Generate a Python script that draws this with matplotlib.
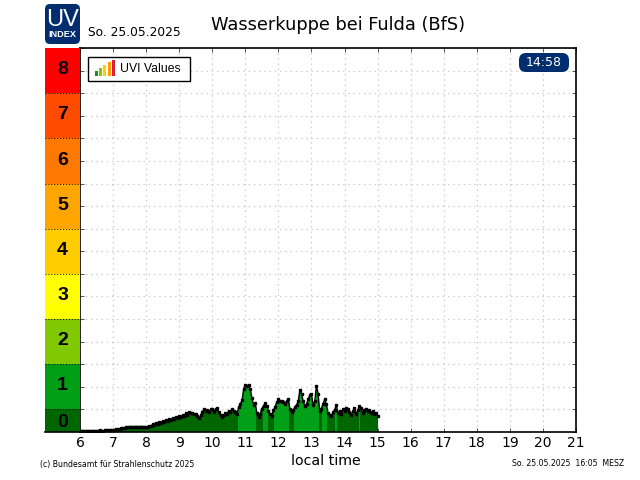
import matplotlib
matplotlib.use('Agg')
import matplotlib.pyplot as plt
from matplotlib.patches import FancyBboxPatch, Rectangle

# one reading every 3 minutes from 06:00, last one at the end of the list
uvi_minutes = list(range(360, 903, 3))
uvi_values = [
    .03, .03, .03, .03, .03, .03, .03, .03, .03, .03, .03, .03, .04, .03, .03, .04, .04, .04, .04, .04,
    .05, .05, .06, .06, .07, .08, .08, .09, .10, .11, .12, .12, .12, .12, .12, .12, .12, .12, .12, .11,
    .11, .12, .14, .13, .17, .15, .20, .18, .22, .20, .25, .22, .27, .24, .29, .26, .31, .28, .34, .32,
    .36, .33, .38, .36, .41, .38, .44, .41, .43, .39, .40, .36, .30, .37, .44, .50, .46, .49, .44, .50,
    .52, .45, .51, .53, .44, .38, .33, .37, .42, .40, .47, .44, .50, .47, .45, .40, .56, .62, .70, .95,
    1.05, 1.02, 1.05, .95, .75, .60, .64, .42, .33, .40, .52, .58, .64, .58, .47, .40, .36, .48, .56, .66,
    .72, .68, .69, .66, .63, .68, .74, .50, .44, .48, .56, .60, .68, .94, .85, .68, .57, .62, .72, .82,
    .84, .60, .68, 1.02, .85, .46, .52, .62, .72, .62, .43, .38, .35, .44, .48, .60, .42, .46, .40, .50,
    .46, .53, .50, .44, .38, .46, .53, .40, .48, .58, .54, .42, .49, .52, .46, .49, .43, .46, .40, .42,
    .35,
]

band_labels = ['0', '1', '2', '3', '4', '5', '6', '7', '8']
band_colors = ['#006600', '#009e14', '#80c800', '#ffff00', '#ffcc00',
               '#ffa500', '#ff7800', '#ff4b00', '#ff0000']
band_edges = [0, 0.5, 1.5, 2.5, 3.5, 4.5, 5.5, 6.5, 7.5, 8.5]
hours = list(range(6, 22))
half_steps = [0.5 * i for i in range(0, 18)]
icon_heights = [5, 8, 11, 14, 16]
icon_colors = ['#1e8c1e', '#80c800', '#ffcc00', '#ff9a00', '#d8203c']

W, H = 640, 480
navy = '#002d6e'

def box(x0, y_top, x1, y_bottom):
    # pixel box from the top left corner -> matplotlib axes rectangle
    return [x0 / W, 1 - y_bottom / H, (x1 - x0) / W, (y_bottom - y_top) / H]

fig = plt.figure(figsize=(6.4, 4.8), dpi=100)

ax = fig.add_axes(box(80, 48, 576, 432))
ax.set_xlim(6, 21)
ax.set_ylim(0, 8.5)
ax.set_xticks(hours)
ax.set_yticks(half_steps)
ax.set_yticklabels([])
ax.tick_params(axis='both', direction='in', length=3, width=0.7, top=True, right=True, color='#555555')
ax.tick_params(axis='x', labelsize=10, pad=3)
ax.grid(True, color='#cccccc', linestyle=(0, (1.2, 3)), linewidth=0.9)
ax.set_axisbelow(True)
for s in ax.spines.values():
    s.set_linewidth(1.2)

ax.set_xlabel('local time', fontsize=10.2, labelpad=3, x=0.495)

hrs = [m / 60 for m in uvi_minutes]
colors = ['#006600' if v < 0.55 else '#00a018' for v in uvi_values]
ax.bar(hrs, uvi_values, width=3 / 60, color=colors, linewidth=0, zorder=2)
ax.plot(hrs, uvi_values, color='black', linewidth=1.0, marker='s', markersize=1.7, zorder=3)

# UV index scale on the left
scale = fig.add_axes(box(45, 48, 80, 432))
scale.set_xlim(0, 1)
scale.set_ylim(0, 8.5)
scale.axis('off')
for i, lab in enumerate(band_labels):
    low, high = band_edges[i], band_edges[i + 1]
    scale.bar(0.5, high - low, bottom=low, width=1, color=band_colors[i], linewidth=0)
    if i > 0:
        scale.plot([0, 1], [low, low], color='black', linestyle=(0, (1, 2)), linewidth=0.7)
    scale.text(0.5, i + 0.02 if i else 0.22, lab, ha='center', va='center', fontsize=14,
               fontweight='bold', family='Liberation Sans')
scale.plot([0, 1], [0, 0], color='black', linewidth=1.2, clip_on=False)

# logo, date, title
art = fig.add_axes([0, 0, 1, 1])
art.set_xlim(0, W)
art.set_ylim(H, 0)
art.axis('off')
art.patch.set_alpha(0)
art.add_patch(FancyBboxPatch((48, 7), 29, 34, boxstyle='round,pad=3,rounding_size=5',
                             facecolor=navy, edgecolor='none'))
art.text(62.5, 20, 'UV', color='white', fontsize=17, ha='center', va='center', family='Liberation Sans')
art.text(62.5, 34.5, 'INDEX', color='white', fontsize=6.6, fontweight='bold', ha='center', va='center',
         family='Liberation Sans')
art.text(88, 32, 'So. 25.05.2025', fontsize=8.8, ha='left', va='center')
art.text(338, 25, 'Wasserkuppe bei Fulda (BfS)', fontsize=12.8, ha='center', va='center')

# legend box
art.add_patch(Rectangle((88, 56.5), 102, 24, facecolor='white', edgecolor='black', linewidth=1, zorder=5))
for i, h in enumerate(icon_heights):
    art.add_patch(Rectangle((95 + i * 4.2, 76 - h), 3, h, facecolor=icon_colors[i], edgecolor='none', zorder=6))
art.text(120, 69.5, 'UVI Values', fontsize=8.8, ha='left', va='center', family='Liberation Sans', zorder=6)

# clock pill
art.add_patch(FancyBboxPatch((523, 57), 42, 11, boxstyle='round,pad=4,rounding_size=7',
                             facecolor=navy, edgecolor='none', zorder=5))
art.text(544, 62.5, '14:58', color='white', fontsize=9, ha='center', va='center', zorder=6)

# footer
art.text(40, 464, '(c) Bundesamt für Strahlenschutz 2025', fontsize=5.6, ha='left', va='center')
art.text(624, 464, 'So. 25.05.2025  16:05  MESZ', fontsize=5.55, ha='right', va='center')

fig.savefig('out.png', dpi=100)
